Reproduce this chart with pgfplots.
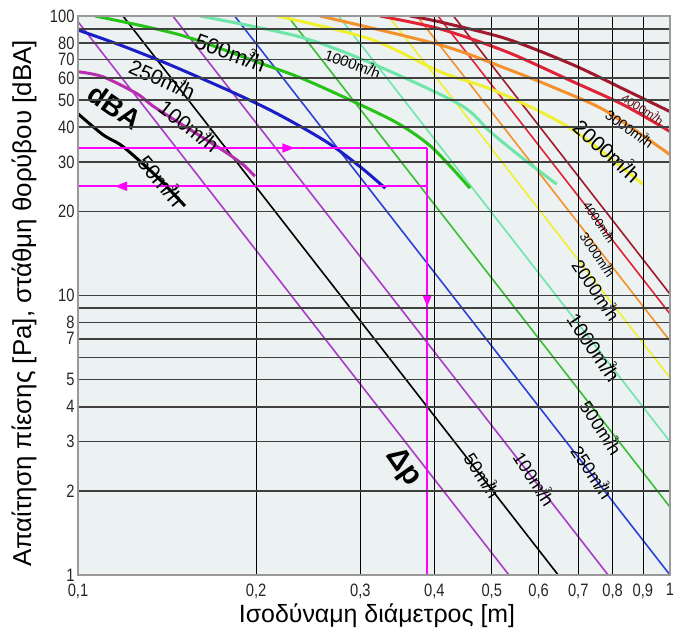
\documentclass[border=0pt]{standalone}
\usepackage{fontspec}
\setmainfont{Liberation Sans}
\newfontfamily\narrowfont[FakeStretch=0.82]{Liberation Sans}
\usepackage{pgfplots}
\pgfplotsset{compat=1.18}
\usetikzlibrary{arrows.meta,decorations.markings}

\definecolor{cPurple}{RGB}{170,60,200}
\definecolor{cMag}{RGB}{185,45,175}
\definecolor{cBlue}{RGB}{45,65,215}
\definecolor{cBlueD}{RGB}{25,30,200}
\definecolor{cGreen}{RGB}{60,190,50}
\definecolor{cGreenD}{RGB}{40,195,25}
\definecolor{cAqua}{RGB}{110,230,170}
\definecolor{cYellow}{RGB}{240,240,50}
\definecolor{cOrange}{RGB}{245,145,45}
\definecolor{cRed}{RGB}{225,35,55}
\definecolor{cDRed}{RGB}{160,25,45}
\definecolor{cArrow}{RGB}{255,0,255}
\definecolor{bgc}{RGB}{236,241,242}

\newcommand\fs[1]{\fontsize{#1}{#1}\selectfont}
% superscript 3 set over the slash, as in the original
\newcommand\mh{m\makebox[0pt][l]{\raisebox{0.55em}{\scalebox{0.5}{3}}}/h}

\tikzset{
  dp/.style={line width=1.6bp},
  dba/.style={line width=3bp, smooth},
  arr/.style={cArrow, line width=1.5bp, postaction={decorate},
    decoration={markings, mark=at position #1 with {\arrow{Triangle[length=12bp,width=9bp]}}}},
  lbl/.style={font=\fs{18}, inner sep=0pt},
}

\begin{document}
\begin{tikzpicture}
\begin{axis}[
  at={(0,0)}, anchor=south west,
  xmode=log, ymode=log,
  scale only axis, width=592bp, height=559bp,
  xmin=0.1, xmax=1, ymin=1, ymax=100,
  xtick={0.1,0.2,0.3,0.4,0.5,0.6,0.7,0.8,0.9,1},
  xticklabels={{0,1},{0,2},{0,3},{0,4},{0,5},{0,6},{0,7},{0,8},{0,9},1},
  ytick={1,2,3,4,5,6,7,8,9,10,20,30,40,50,60,70,80,90,100},
  yticklabels={1,2,3,4,5,,7,8,,10,20,30,40,50,60,70,80,,100},
  minor xtick={}, minor ytick={},
  grid=major,
  x grid style={black, line width=0.8bp},
  y grid style={black!75, line width=1.6bp},
  axis on top,
  axis background/.style={fill=bgc},
  axis line style={gray!80, line width=1.2bp},
  major tick length=0pt,
  tick label style={font=\narrowfont\fs{18}, text=black!85},
  xticklabel style={yshift=-5bp},
  xlabel={Ισοδύναμη διάμετρος [m]},
  ylabel={Απαίτηση πίεσης [Pa], στάθμη θορύβου [dBA]},
  every axis x label/.style={at={(axis description cs:0.5,0)}, anchor=center,
    yshift=-41bp, xshift=3bp, font=\fs{25}},
  every axis y label/.style={at={(axis description cs:0,0.5)}, anchor=center,
    rotate=90, yshift=54bp, xshift=-8bp, font=\fs{26}},
]

% pressure drop lines (straight in log-log)
\addplot[dp, cPurple] coordinates {(0.0983,100) (0.5345,1)};
\addplot[dp, black]   coordinates {(0.1191,100) (0.6474,1)};
\addplot[dp, cPurple] coordinates {(0.1446,100) (0.7863,1)};
\addplot[dp, cBlue]   coordinates {(0.1839,100) (1,1)};
\addplot[dp, cGreen]  coordinates {(0.2260,100) (1,1.75)};
\addplot[dp, cAqua]   coordinates {(0.2755,100) (1,3.0)};
\addplot[dp, cYellow] coordinates {(0.3343,100) (1,5.08)};
\addplot[dp, cOrange] coordinates {(0.3738,100) (1,6.88)};
\addplot[dp, cRed]    coordinates {(0.4056,100) (1,8.59)};
\addplot[dp, cDRed]   coordinates {(0.4308,100) (1,10.12)};

% noise level curves
\addplot[dba, black] coordinates {(0.1,44.7) (0.1102,37.6) (0.1178,34.7) (0.1258,30.9) (0.1375,26.0) (0.1516,20.9)};
\addplot[dba, cMag] coordinates {(0.1,63.2) (0.1102,60.6) (0.1258,52.7) (0.1359,46.6) (0.1737,33.6) (0.19,29.4) (0.199,26.7)};
\addplot[dba, cBlueD] coordinates {(0.1,89.1) (0.1175,78.9) (0.1413,67.6) (0.1778,54.7) (0.2089,46.6) (0.2399,39.8) (0.2692,34.3) (0.302,28.5) (0.3304,24.2)};
\addplot[dba, cGreenD] coordinates {(0.1068,100) (0.1487,85.6) (0.2006,68.5) (0.2399,59.6) (0.2995,48.2) (0.3497,40.9) (0.398,33.6) (0.4594,24.2)};
\addplot[dba, cAqua] coordinates {(0.1607,100) (0.2371,84.2) (0.3149,67.4) (0.4418,48.2) (0.4966,38.6) (0.5646,30.9) (0.644,25.0)};
\addplot[dba, cYellow] coordinates {(0.2168,100) (0.3112,82.8) (0.409,63.2) (0.4966,54.9) (0.6032,45.5) (0.7047,37.6) (0.9003,25.0)};
\addplot[dba, cOrange] coordinates {(0.2564,100) (0.409,78.8) (0.5303,64.7) (0.644,54.9) (0.7826,45.5) (1,31.9)};
\addplot[dba, cRed] coordinates {(0.3237,100) (0.409,89.9) (0.5303,74.4) (0.6857,58.2) (0.8328,48.2) (1,38.6)};
\addplot[dba, cDRed] coordinates {(0.3638,100) (0.409,95.2) (0.5303,82.8) (0.6857,66.9) (0.8328,54.9) (1,45.5)};

% example reading
\addplot[arr=0.62]  coordinates {(0.1,33.7) (0.389,33.7)};
\addplot[arr=0.372] coordinates {(0.389,33.7) (0.389,1)};
\addplot[arr=0.894] coordinates {(0.389,24.6) (0.1,24.6)};

% labels, noise curves
\node[lbl, font=\bfseries\fs{28}, rotate=-35] at (axis cs:0.1155,47.3) {dBA};
\node[lbl, font=\fs{21}, rotate=-50] at (axis cs:0.1387,25.9) {50\mh};
\node[lbl, font=\fs{21}, rotate=-38] at (axis cs:0.1546,40.7) {100\mh};
\node[lbl, font=\fs{21}, rotate=-24] at (axis cs:0.1392,60.0) {250\mh};
\node[lbl, font=\fs{22}, rotate=-20] at (axis cs:0.1813,75.0) {500\mh};
\node[lbl, font=\fs{15}, rotate=-20] at (axis cs:0.2914,67.9) {1000\mh};
\node[lbl, font=\fs{21}, rotate=-42] at (axis cs:0.7858,33.2) {2000\mh};
\node[lbl, font=\fs{14}, rotate=-35] at (axis cs:0.8559,39.6) {3000\mh};
\node[lbl, font=\fs{12}, rotate=-33, text=cDRed!60!black] at (axis cs:0.9003,46.6) {4000\mh};

% labels, pressure lines
\node[lbl, font=\bfseries\fs{30}, rotate=-55] at (axis cs:0.354,2.43) {Δp};
\node[lbl, rotate=-57] at (axis cs:0.4833,2.28) {50\mh};
\node[lbl, rotate=-57] at (axis cs:0.5916,2.22) {100\mh};
\node[lbl, rotate=-57] at (axis cs:0.7412,2.34) {250\mh};
\node[lbl, rotate=-57] at (axis cs:0.7676,3.38) {500\mh};
\node[lbl, font=\fs{20}, rotate=-56] at (axis cs:0.7468,6.54) {1000\mh};
\node[lbl, rotate=-56] at (axis cs:0.7528,10.5) {2000\mh};
\node[lbl, font=\fs{13}, rotate=-56] at (axis cs:0.756,14.0) {3000\mh};
\node[lbl, font=\fs{12}, rotate=-56] at (axis cs:0.762,18.3) {4000\mh};
\end{axis}
\pgfresetboundingbox
\path (-78bp,-64bp) rectangle (609bp,575bp);
\end{tikzpicture}
\end{document}
